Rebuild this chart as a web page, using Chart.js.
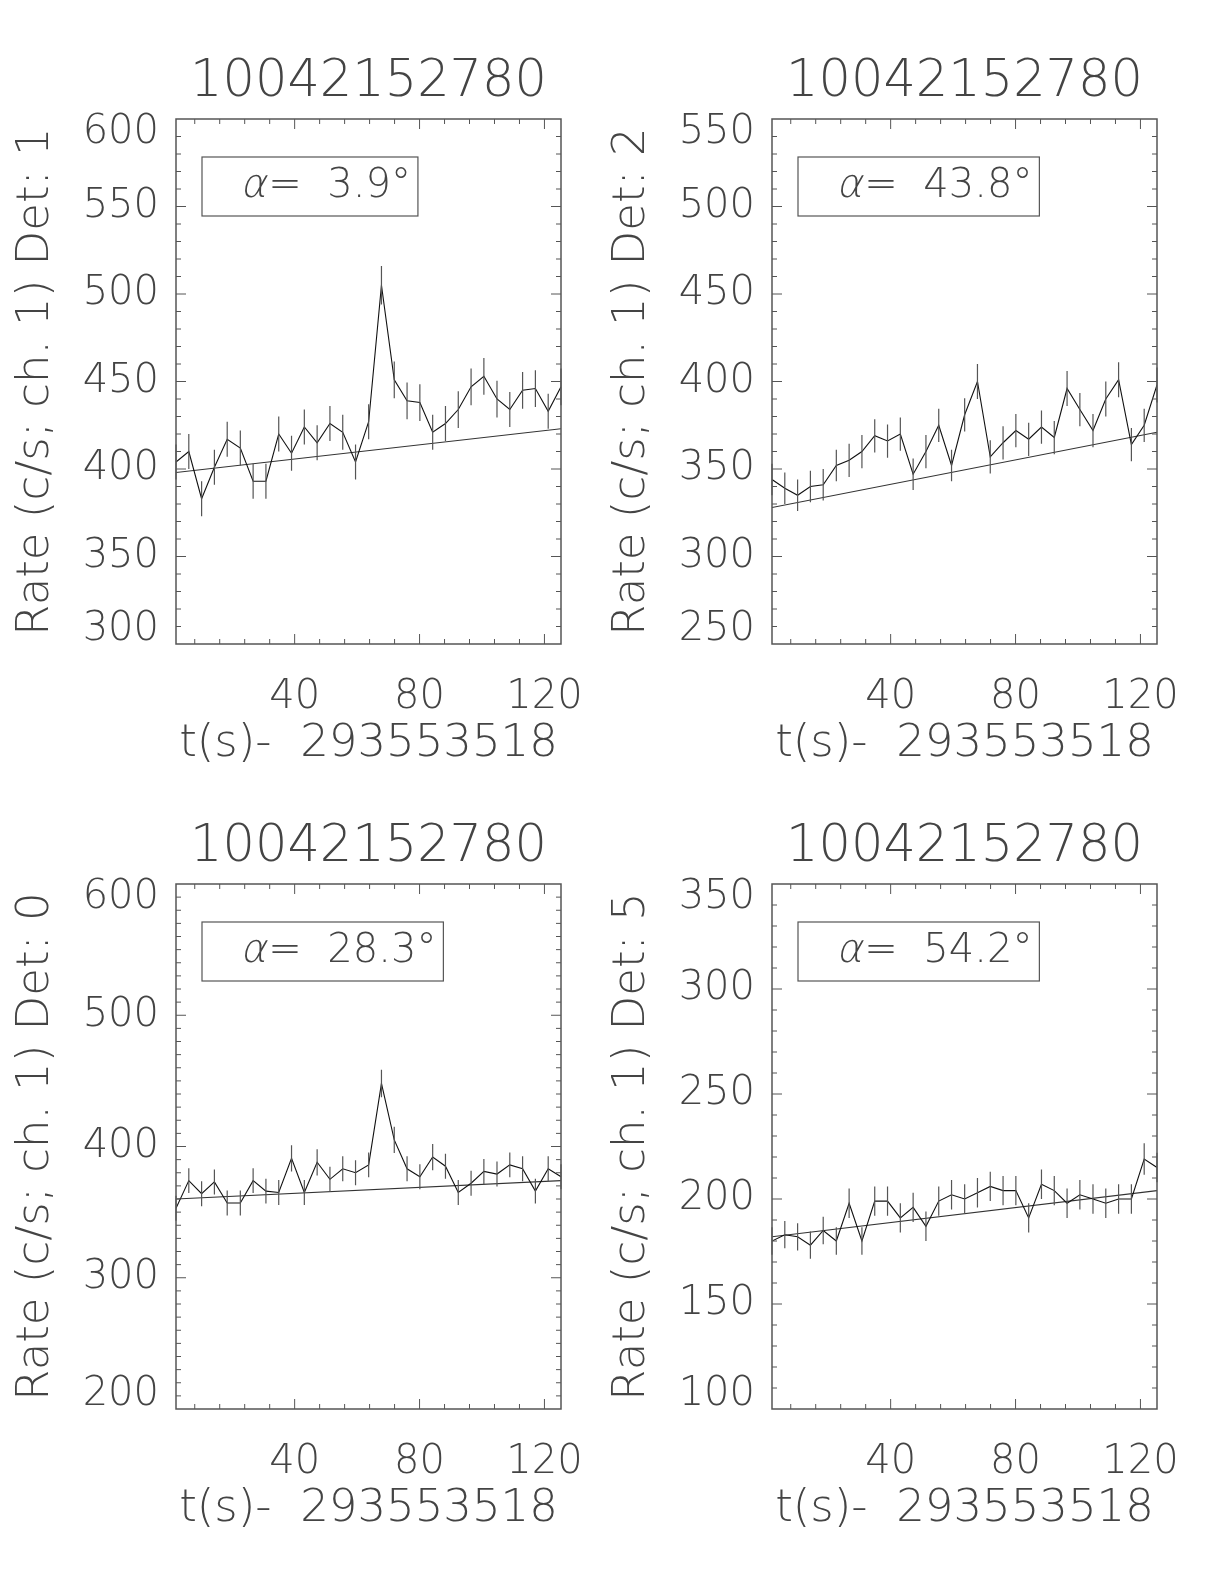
<!DOCTYPE html>
<html>
<head>
<meta charset="utf-8">
<title>Rate curves</title>
<script src="https://cdn.jsdelivr.net/npm/chart.js@4.4.1/dist/chart.umd.min.js"></script>
<style>
  body { margin: 0; background: #fff; }
  .panel { position: absolute; width: 600px; height: 765px; }
</style>
</head>
<body>
<div class="panel" style="left:0;top:0"><canvas id="c1" width="600" height="765"></canvas></div>
<div class="panel" style="left:596px;top:0"><canvas id="c2" width="600" height="765"></canvas></div>
<div class="panel" style="left:0;top:765px"><canvas id="c3" width="600" height="765"></canvas></div>
<div class="panel" style="left:596px;top:765px"><canvas id="c4" width="600" height="765"></canvas></div>
<script>
// time bins, seconds after 293553518
var times = [2.0, 6.1, 10.2, 14.3, 18.4, 22.6, 26.7, 30.8, 34.9, 39.0, 43.1,
             47.2, 51.3, 55.4, 59.5, 63.7, 67.8, 71.9, 76.0, 80.1, 84.2,
             88.3, 92.4, 96.5, 100.6, 104.8, 108.9, 113.0, 117.1, 121.2, 125.3];
var xTicks = [40, 80, 120];

// Det 1
var det1Rate = [404, 410, 383, 401, 417, 412, 393, 393, 420, 409, 424, 415, 426, 421, 404, 427,
                505, 451, 439, 438, 421, 426, 434, 447, 453, 440, 434, 445, 446, 433, 447];
var det1Err = [10, 10, 10, 10, 10, 10, 10, 10, 10, 10, 10, 10, 10, 10, 10, 10,
               11, 10.5, 10.5, 10.5, 10, 10, 10.5, 10.5, 10.5, 10.5, 10, 10.5, 10.5, 10, 10.5];
var det1Fit = [398, 423];
var det1YTicks = [300, 350, 400, 450, 500, 550, 600];

// Det 2
var det2Rate = [344, 339, 335, 340, 341, 352, 355, 360, 369, 366, 370, 347, 360, 375, 352, 381,
                400, 357, 365, 372, 367, 374, 368, 396, 384, 372, 390, 401, 364, 375, 398];
var det2Err = [9, 9, 9, 9, 9, 9, 9.5, 9.5, 9.5, 9.5, 9.5, 9, 9.5, 9.5, 9, 9.5,
               10, 9.5, 9.5, 9.5, 9.5, 9.5, 9.5, 10, 9.5, 9.5, 10, 10, 9.5, 9.5, 10];
var det2Fit = [328, 371];
var det2YTicks = [250, 300, 350, 400, 450, 500, 550];

// Det 0
var det0Rate = [353, 374, 364, 373, 357, 357, 374, 366, 365, 391, 365, 388, 375, 383, 380, 386,
                448, 405, 383, 377, 392, 385, 365, 372, 381, 379, 386, 383, 366, 383, 377];
var det0Err = [9.5, 9.5, 9.5, 9.5, 9.5, 9.5, 9.5, 9.5, 9.5, 10, 9.5, 10, 9.5, 9.5, 9.5, 9.5,
               10.5, 10, 9.5, 9.5, 10, 9.5, 9.5, 9.5, 9.5, 9.5, 9.5, 9.5, 9.5, 9.5, 9.5];
var det0Fit = [360, 374];
var det0YTicks = [200, 300, 400, 500, 600];

// Det 5
var det5Rate = [180, 183, 182, 178, 185, 180, 198, 180, 199, 199, 191, 196, 187, 199, 202, 200,
                203, 206, 204, 204, 191, 207, 204, 198, 202, 200, 198, 200, 200, 219, 215];
var det5Err = [6.5, 6.5, 6.5, 6.5, 6.5, 6.5, 7, 6.5, 7, 7, 7, 7, 7, 7, 7, 7,
               7, 7, 7, 7, 7, 7, 7, 7, 7, 7, 7, 7, 7, 7.5, 7];
var det5Fit = [182, 204];
var det5YTicks = [100, 150, 200, 250, 300, 350];

var FONT = "'DejaVu Sans', sans-serif";
var INK = '#444';
Chart.defaults.font.family = FONT;
Chart.defaults.font.weight = 200;
Chart.defaults.color = INK;

// frame with inward ticks on all four sides
var framePlugin = {
    id: 'frame',
    afterDraw: function(chart, args, opts) {
        var ctx = chart.ctx, a = chart.chartArea;
        var xs = chart.scales.x, ys = chart.scales.y;
        ctx.save();
        ctx.strokeStyle = '#555';
        ctx.lineWidth = 1.5;
        ctx.strokeRect(a.left, a.top, a.right - a.left, a.bottom - a.top);
        ctx.lineWidth = 1;
        ctx.beginPath();
        for (var t = 8; t < xs.max; t += 8) {
            var px = xs.getPixelForValue(t);
            var len = xTicks.indexOf(t) >= 0 ? 10 : 5;
            ctx.moveTo(px, a.bottom); ctx.lineTo(px, a.bottom - len);
            ctx.moveTo(px, a.top); ctx.lineTo(px, a.top + len);
        }
        for (var v = ys.min + 10; v < ys.max; v += 10) {
            var py = ys.getPixelForValue(v);
            var l2 = opts.yTicks.indexOf(v) >= 0 ? 10 : 5;
            ctx.moveTo(a.left, py); ctx.lineTo(a.left + l2, py);
            ctx.moveTo(a.right, py); ctx.lineTo(a.right - l2, py);
        }
        ctx.stroke();
        ctx.restore();
    }
};

// vertical error bars on the rate series
var errorBarPlugin = {
    id: 'errbars',
    afterDatasetsDraw: function(chart) {
        var ds = chart.data.datasets[0];
        var xs = chart.scales.x, ys = chart.scales.y, ctx = chart.ctx;
        ctx.save();
        ctx.strokeStyle = '#555';
        ctx.lineWidth = 1.2;
        ctx.beginPath();
        ds.data.forEach(function(p, i) {
            var px = xs.getPixelForValue(p.x);
            ctx.moveTo(px, ys.getPixelForValue(p.y - ds.errors[i]));
            ctx.lineTo(px, ys.getPixelForValue(p.y + ds.errors[i]));
        });
        ctx.stroke();
        ctx.restore();
    }
};

// boxed angle label
var alphaPlugin = {
    id: 'alphabox',
    afterDraw: function(chart, args, opts) {
        var ctx = chart.ctx, a = chart.chartArea;
        var rest = '=  ' + opts.text + '\u00b0';
        ctx.save();
        ctx.font = '200 40px ' + FONT;
        var wa = ctx.measureText('\u03b1').width;
        var wr = ctx.measureText(rest).width;
        var left = a.left + 26, top = a.top + 38;
        ctx.strokeStyle = '#555';
        ctx.lineWidth = 1.2;
        ctx.strokeRect(left, top, wa + wr + 47, 59);
        ctx.fillStyle = INK;
        ctx.textBaseline = 'alphabetic';
        ctx.fillText(rest, left + 40 + wa, top + 40);
        // slanted alpha
        ctx.translate(left + 38, top + 40);
        ctx.transform(1, 0, -0.22, 1, 0, 0);
        ctx.fillText('\u03b1', 0, 0);
        ctx.restore();
    }
};

// push the end labels inside the axis range, as the original plot does
function yLabel(value, index, ticks) {
    if (index === ticks.length - 1) return ['', String(value)];
    if (index === 0) return [String(value), ''];
    return String(value);
}

function makeChart(id, det, rate, err, fit, yTicks, alpha) {
    var pts = times.map(function(t, i) { return {x: t, y: rate[i]}; });
    var fitPts = [{x: times[0], y: fit[0]}, {x: times[times.length - 1], y: fit[1]}];
    return new Chart(document.getElementById(id), {
        type: 'line',
        data: {
            datasets: [
                {data: pts, errors: err, borderColor: '#111', borderWidth: 1.1,
                 pointRadius: 0, tension: 0},
                {data: fitPts, borderColor: '#333', borderWidth: 1.1, pointRadius: 0}
            ]
        },
        options: {
            responsive: false,
            animation: false,
            devicePixelRatio: 1,
            layout: {padding: {left: 0, right: 39, top: 0, bottom: 0}},
            plugins: {
                legend: {display: false},
                tooltip: {enabled: false},
                title: {
                    display: true,
                    text: '10042152780',
                    fullSize: false,
                    color: INK,
                    font: {size: 51, weight: 200},
                    padding: {top: 52.4, bottom: 5.4}
                },
                frame: {yTicks: yTicks},
                alphabox: {text: alpha}
            },
            scales: {
                x: {
                    type: 'linear',
                    min: times[0],
                    max: times[times.length - 1],
                    afterBuildTicks: function(axis) {
                        axis.ticks = xTicks.map(function(v) { return {value: v}; });
                    },
                    afterFit: function(axis) {
                        axis.height = 121;
                        axis.paddingLeft = 0;
                        axis.paddingRight = 0;
                    },
                    grid: {display: false, drawTicks: false},
                    border: {display: false},
                    ticks: {font: {size: 40}, padding: 30, maxRotation: 0},
                    title: {
                        display: true,
                        text: 't(s)-  293553518',
                        font: {size: 45, lineHeight: 0.8},
                        padding: {top: 0, bottom: 3}
                    }
                },
                y: {
                    min: yTicks[0],
                    max: yTicks[yTicks.length - 1],
                    afterBuildTicks: function(axis) {
                        axis.ticks = yTicks.map(function(v) { return {value: v}; });
                    },
                    afterFit: function(axis) {
                        axis.width = 176;
                        axis.paddingTop = 0;
                        axis.paddingBottom = 0;
                    },
                    grid: {display: false, drawTicks: false},
                    border: {display: false},
                    ticks: {font: {size: 40, lineHeight: 0.7}, padding: 17, callback: yLabel},
                    title: {
                        display: true,
                        text: 'Rate (c/s; ch. 1) Det: ' + det,
                        font: {size: 45},
                        padding: {top: 9, bottom: 0}
                    }
                }
            }
        },
        plugins: [errorBarPlugin, framePlugin, alphaPlugin]
    });
}

makeChart('c1', 1, det1Rate, det1Err, det1Fit, det1YTicks, '3.9');
makeChart('c2', 2, det2Rate, det2Err, det2Fit, det2YTicks, '43.8');
makeChart('c3', 0, det0Rate, det0Err, det0Fit, det0YTicks, '28.3');
makeChart('c4', 5, det5Rate, det5Err, det5Fit, det5YTicks, '54.2');
</script>
</body>
</html>
